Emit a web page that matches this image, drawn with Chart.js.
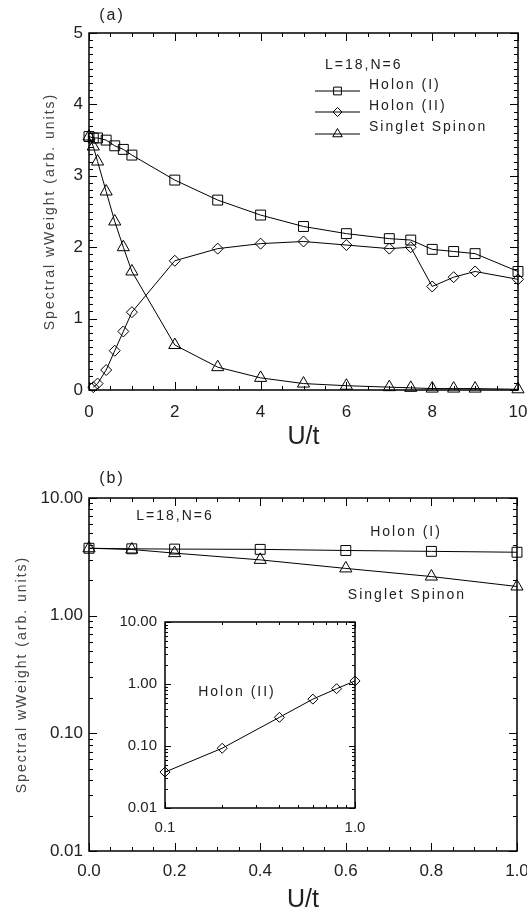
<!DOCTYPE html>
<html>
<head>
<meta charset="utf-8">
<script src="https://cdn.jsdelivr.net/npm/chart.js@4"></script>
<style>
  body { margin: 0; background: #fff; }
  #wrap { position: relative; width: 527px; height: 918px; overflow: hidden; }
  canvas { position: absolute; }
</style>
</head>
<body>
<div id="wrap">
  <canvas id="chartA" width="527" height="460" style="left:0;top:0"></canvas>
  <canvas id="chartB" width="527" height="458" style="left:0;top:460px"></canvas>
  <canvas id="inset" width="270" height="240" style="left:100px;top:600px"></canvas>
</div>
<script>
// panel (a): spectral weight vs U/t
const holon1U = [0, 0.1, 0.2, 0.4, 0.6, 0.8, 1, 2, 3, 4, 5, 6, 7, 7.5, 8, 8.5, 9, 10];
const holon1W = [3.55, 3.53, 3.53, 3.50, 3.42, 3.37, 3.29, 2.94, 2.66, 2.45, 2.29, 2.19, 2.12, 2.10, 1.97, 1.94, 1.91, 1.66];
const holon2U = [0.1, 0.2, 0.4, 0.6, 0.8, 1, 2, 3, 4, 5, 6, 7, 7.5, 8, 8.5, 9, 10];
const holon2W = [0.04, 0.09, 0.28, 0.55, 0.82, 1.09, 1.81, 1.98, 2.05, 2.08, 2.03, 1.98, 2.0, 1.45, 1.58, 1.66, 1.55];
const spinonU = [0, 0.1, 0.2, 0.4, 0.6, 0.8, 1, 2, 3, 4, 5, 6, 7, 7.5, 8, 8.5, 9, 10];
const spinonW = [3.55, 3.41, 3.2, 2.78, 2.36, 2.0, 1.66, 0.63, 0.32, 0.17, 0.09, 0.06, 0.04, 0.03, 0.02, 0.02, 0.02, 0.01];
const aXTicks = [0, 2, 4, 6, 8, 10];
const aYTicks = [0, 1, 2, 3, 4, 5];

// panel (b): small U/t on log scale
const bU = [0, 0.1, 0.2, 0.4, 0.6, 0.8, 1.0];
const bHolon1 = [3.74, 3.7, 3.68, 3.66, 3.58, 3.52, 3.46];
const bSpinon = [3.74, 3.65, 3.4, 2.98, 2.52, 2.15, 1.77];
const bXTicks = [0, 0.2, 0.4, 0.6, 0.8, 1.0];
const bYTicks = [0.01, 0.1, 1, 10];

// inset: Holon (II), log-log
const insetU = [0.1, 0.2, 0.4, 0.6, 0.8, 1.0];
const insetHolon2 = [0.038, 0.092, 0.29, 0.57, 0.84, 1.12];
const insetXTicks = [0.1, 1.0];
const insetYTicks = [0.01, 0.1, 1, 10];

const FONT = '"Liberation Sans", Arial, sans-serif';
const pts = (xs, ys) => xs.map((x, i) => ({ x, y: ys[i] }));

function series(xs, ys, style, r) {
  return {
    data: pts(xs, ys), showLine: true, tension: 0, clip: false,
    borderColor: '#000', borderWidth: 1,
    pointStyle: style, pointRadius: r, pointBorderWidth: 1,
    pointBorderColor: '#000', pointBackgroundColor: 'rgba(0,0,0,0)'
  };
}

// minor tick helpers
const steps = (a, b, d) => { const out = []; for (let v = a; v <= b + 1e-9; v += d) out.push(+v.toFixed(4)); return out; };
const logMinor = (lo, hi) => { const out = []; for (let e = lo; e < hi; e++) for (let k = 2; k <= 9; k++) out.push(k * Math.pow(10, e)); return out; };

// inward ticks on all four sides plus the box
const frame = {
  id: 'frame',
  afterDraw(chart, args, o) {
    const { ctx, chartArea: a, scales } = chart;
    ctx.save();
    ctx.strokeStyle = '#000';
    ctx.lineWidth = 1;
    const mark = (axis, vals, len) => vals.forEach(v => {
      const p = Math.round(scales[axis].getPixelForValue(v)) + 0.5;
      ctx.beginPath();
      if (axis === 'x') {
        ctx.moveTo(p, a.bottom); ctx.lineTo(p, a.bottom - len);
        ctx.moveTo(p, a.top); ctx.lineTo(p, a.top + len);
      } else {
        ctx.moveTo(a.left, p); ctx.lineTo(a.left + len, p);
        ctx.moveTo(a.right, p); ctx.lineTo(a.right - len, p);
      }
      ctx.stroke();
    });
    mark('x', o.xMinor, o.minor);
    mark('y', o.yMinor, o.minor);
    mark('x', o.xMajor, o.major);
    mark('y', o.yMajor, o.major);
    ctx.lineWidth = 1.5;
    ctx.strokeRect(a.left, a.top, a.right - a.left, a.bottom - a.top);
    ctx.restore();
  }
};

// free text, rotated y title and the hand-made legend
const notes = {
  id: 'notes',
  afterDraw(chart, args, o) {
    const { ctx, chartArea: a } = chart;
    ctx.save();
    ctx.fillStyle = '#222';
    ctx.textBaseline = 'middle';
    ctx.letterSpacing = '2px';
    (o.texts || []).forEach(t => {
      ctx.font = `${t.size || 14}px ${FONT}`;
      ctx.textAlign = t.align || 'center';
      ctx.fillText(t.text, t.x, t.y);
    });
    if (o.yTitle) {
      ctx.save();
      ctx.fillStyle = '#444';
      ctx.font = `14px ${FONT}`;
      ctx.textAlign = 'center';
      ctx.translate(o.yTitle.x, (a.top + a.bottom) / 2);
      ctx.rotate(-Math.PI / 2);
      ctx.fillText(o.yTitle.text, 0, 0);
      ctx.restore();
    }
    (o.legend || []).forEach(e => {
      ctx.strokeStyle = '#000';
      ctx.lineWidth = 1;
      ctx.beginPath();
      ctx.moveTo(e.x0, e.ly); ctx.lineTo(e.x1, e.ly);
      ctx.stroke();
      ctx.save();
      ctx.fillStyle = 'rgba(0,0,0,0)';
      Chart.helpers.drawPoint(ctx, { pointStyle: e.style, radius: e.r, borderWidth: 1 }, (e.x0 + e.x1) / 2, e.ly);
      ctx.restore();
      ctx.font = `14px ${FONT}`;
      ctx.textAlign = 'left';
      ctx.fillText(e.text, e.tx, e.ty);
    });
    ctx.restore();
  }
};

function axis(type, min, max, tickVals, fmt, size, pad, fit, title) {
  return {
    type, min, max,
    grid: { display: false, drawTicks: false },
    border: { display: false },
    ticks: { font: { family: FONT, size }, color: '#222', padding: pad, autoSkip: false, maxRotation: 0, callback: fmt },
    afterBuildTicks: s => { s.ticks = tickVals.map(v => ({ value: v })); },
    afterFit: s => { fit(s); s.paddingLeft = 0; s.paddingRight = 0; s.paddingTop = 0; s.paddingBottom = 0; },
    title: title || { display: false }
  };
}

function makeChart(id, datasets, o) {
  return new Chart(document.getElementById(id), {
    type: 'scatter',
    data: { datasets },
    options: {
      responsive: false, animation: false, events: [],
      layout: { padding: o.pad },
      plugins: { legend: { display: false }, tooltip: { enabled: false }, frame: o.frame, notes: o.notes },
      scales: { x: o.x, y: o.y }
    },
    plugins: [frame, notes]
  });
}

const uTitle = (bottom) => ({ display: true, text: 'U/t', color: '#222', font: { family: FONT, size: 25 }, padding: { top: 0, bottom } });
const yTitleText = 'Spectral wWeight (arb. units)';

makeChart('chartA', [
  series(holon1U, holon1W, 'rect', 7),
  series(holon2U, holon2W, 'rectRot', 5.5),
  series(spinonU, spinonW, 'triangle', 7)
], {
  pad: { left: 0, top: 33, right: 9, bottom: 0 },
  x: axis('linear', 0, 10, aXTicks, v => String(v), 17, 12, s => { s.height = 70; }, uTitle(8)),
  y: axis('linear', 0, 5, aYTicks, v => String(v), 17, 6, s => { s.width = 89; }),
  frame: { xMajor: aXTicks, xMinor: steps(0, 10, 0.5), yMajor: aYTicks, yMinor: steps(0, 5, 0.1), major: 8, minor: 4 },
  notes: {
    texts: [
      { text: '(a)', x: 112, y: 16, size: 16 },
      { text: 'L=18,N=6', x: 325, y: 65, align: 'left' }
    ],
    yTitle: { text: yTitleText, x: 50 },
    legend: [
      { text: 'Holon (I)', style: 'rect', r: 5.5, x0: 315, x1: 360, ly: 91, tx: 369, ty: 85 },
      { text: 'Holon (II)', style: 'rectRot', r: 4.5, x0: 315, x1: 360, ly: 112, tx: 369, ty: 106 },
      { text: 'Singlet Spinon', style: 'triangle', r: 5.5, x0: 315, x1: 360, ly: 134, tx: 369, ty: 127 }
    ]
  }
});

makeChart('chartB', [
  series(bU, bHolon1, 'rect', 7),
  series(bU, bSpinon, 'triangle', 7)
], {
  pad: { left: 0, top: 38, right: 10, bottom: 0 },
  x: axis('linear', 0, 1, bXTicks, v => v.toFixed(1), 17, 10, s => { s.height = 67; }, uTitle(3)),
  y: axis('logarithmic', 0.01, 10, bYTicks, v => v.toFixed(2), 17, 6, s => { s.width = 89; }),
  frame: { xMajor: bXTicks, xMinor: steps(0, 1, 0.05), yMajor: bYTicks, yMinor: logMinor(-2, 1), major: 8, minor: 4 },
  notes: {
    texts: [
      { text: '(b)', x: 112, y: 19, size: 16 },
      { text: 'L=18,N=6', x: 175, y: 56 },
      { text: 'Holon (I)', x: 406, y: 72 },
      { text: 'Singlet Spinon', x: 407, y: 135 }
    ],
    yTitle: { text: yTitleText, x: 22 }
  }
});

makeChart('inset', [
  series(insetU, insetHolon2, 'rectRot', 5)
], {
  pad: { left: 0, top: 22, right: 15, bottom: 0 },
  x: axis('logarithmic', 0.1, 1, insetXTicks, v => v.toFixed(1), 15, 11, s => { s.height = 32; }),
  y: axis('logarithmic', 0.01, 10, insetYTicks, v => v.toFixed(2), 15, 8, s => { s.width = 65; }),
  frame: { xMajor: insetXTicks, xMinor: logMinor(-1, 0), yMajor: insetYTicks, yMinor: logMinor(-2, 1), major: 6, minor: 3 },
  notes: {
    texts: [{ text: 'Holon (II)', x: 137, y: 92 }]
  }
});
</script>
</body>
</html>
